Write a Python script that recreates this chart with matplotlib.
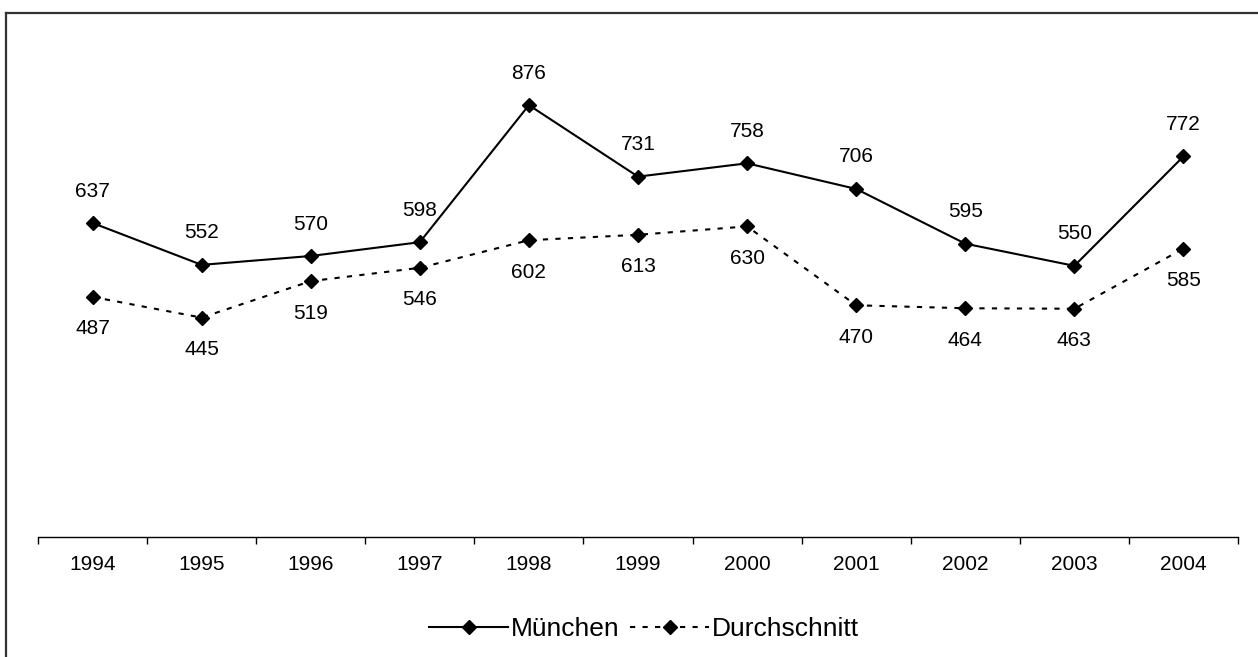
import matplotlib.pyplot as plt
from matplotlib.lines import Line2D

plt.rcParams['font.family'] = ['Liberation Sans', 'DejaVu Sans']

years = ['1994', '1995', '1996', '1997', '1998', '1999', '2000', '2001', '2002', '2003', '2004']
muenchen = [637, 552, 570, 598, 876, 731, 758, 706, 595, 550, 772]
durchschnitt = [487, 445, 519, 546, 602, 613, 630, 470, 464, 463, 585]

fig = plt.figure(figsize=(12.58, 6.57), dpi=100)
ax = fig.add_axes([38 / 1258, 120 / 657, 1200 / 1258, 493 / 657])

x = list(range(len(years)))
ax.plot(x, muenchen, color='black', lw=1.5, marker='D', ms=7, label='München')
ax.plot(x, durchschnitt, color='black', lw=1.5, ls=(0, (2.5, 3.5)), marker='D', ms=7,
        label='Durchschnitt')

for i, v in enumerate(muenchen):
    ax.annotate(str(v), (i, v), xytext=(0, 23), textcoords='offset points',
                ha='center', va='center', fontsize=15)
for i, v in enumerate(durchschnitt):
    ax.annotate(str(v), (i, v), xytext=(0, -23), textcoords='offset points',
                ha='center', va='center', fontsize=15)

ax.set_xlim(-0.5, len(years) - 0.5)
ax.set_ylim(0, 1000)
ax.set_xticks(x)
ax.set_xticklabels(years, fontsize=15)
ax.set_xticks([i - 0.5 for i in range(len(years) + 1)], minor=True)
ax.tick_params(axis='x', which='major', length=0, pad=13)
ax.tick_params(axis='x', which='minor', length=5, width=1, direction='out')
ax.set_yticks([])
for s in ['top', 'right', 'left']:
    ax.spines[s].set_visible(False)
ax.spines['bottom'].set_linewidth(1)

fig.legend(loc='center', bbox_to_anchor=(644 / 1258, 1 - 629 / 657), ncol=2,
           frameon=False, fontsize=19, handlelength=3.0, columnspacing=0.4,
           handletextpad=0.1)

# outer frame (left and top edges visible)
fig.add_artist(Line2D([6.5 / 1258, 6.5 / 1258], [0, 1 - 13 / 657], color='#333333', lw=1.6))
fig.add_artist(Line2D([6.5 / 1258, 1], [1 - 13 / 657, 1 - 13 / 657], color='#333333', lw=1.6))

fig.savefig('out.png', dpi=100)
